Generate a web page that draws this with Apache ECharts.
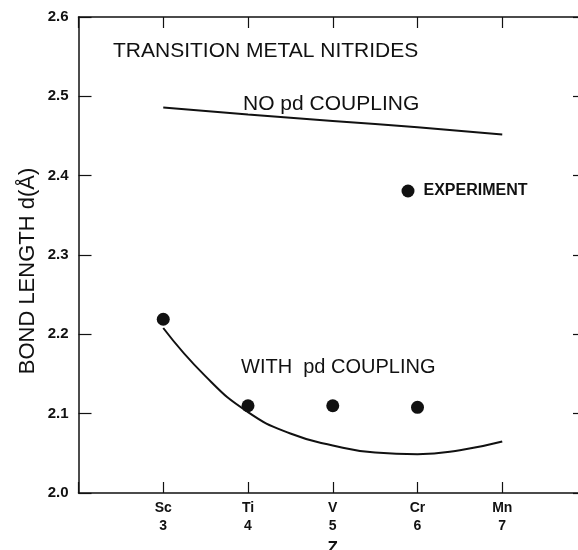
<!DOCTYPE html>
<html>
<head>
<meta charset="utf-8">
<script src="https://cdn.jsdelivr.net/npm/echarts@6/dist/echarts.min.js"></script>
<style>
html,body{margin:0;padding:0;background:#fff;}
#chart{width:578px;height:550px;}
</style>
</head>
<body>
<div id="chart"></div>
<script>
// ---- data ----
var elements = ['Sc', 'Ti', 'V', 'Cr', 'Mn'];
var zValues = [3, 4, 5, 6, 7];
var yTicks = [2.0, 2.1, 2.2, 2.3, 2.4, 2.5, 2.6];
var noCouplingZ = [3, 4, 5, 6, 7];
var noCouplingD = [2.486, 2.477, 2.469, 2.461, 2.452];
var withCouplingZ = [3, 3.5, 4, 4.5, 5, 5.5, 6, 6.5, 7];
var withCouplingD = [2.208, 2.147, 2.102, 2.075, 2.060, 2.051, 2.049, 2.054, 2.065];
var experimentZ = [3, 4, 5, 6];
var experimentD = [2.219, 2.110, 2.110, 2.108];
var titleText = 'TRANSITION METAL NITRIDES';
var noLabel = 'NO pd COUPLING';
var withLabel = 'WITH  pd COUPLING';
var yTitle = 'BOND LENGTH d(Å)';

function pairs(xs, ys) { return xs.map(function (x, i) { return [x, ys[i]]; }); }

var FONT = '"Liberation Sans", Arial, sans-serif';
var chart = echarts.init(document.getElementById('chart'), null, { renderer: 'canvas' });

var axisLine = { show: true, lineStyle: { color: '#111', width: 1.5 } };
var xLabel = function (v) {
  var i = zValues.indexOf(v);
  return i < 0 ? '' : elements[i] + '\n' + zValues[i];
};

chart.setOption({
  animation: false,
  backgroundColor: '#fff',
  grid: { left: 78.5, top: 17, width: 508.5, height: 476, outerBoundsMode: 'none', containLabel: false },
  legend: {
    data: [{ name: 'EXPERIMENT', icon: 'circle' }],
    left: 396.5, top: 178,
    itemWidth: 13, itemHeight: 13,
    textStyle: { fontFamily: FONT, fontWeight: 'bold', fontSize: 16, color: '#111', padding: [0, 0, 0, 4] }
  },
  xAxis: [{
    type: 'value', min: 2, max: 8, interval: 1, position: 'bottom',
    axisLine: axisLine,
    axisTick: { show: true, inside: true, length: 11, lineStyle: { color: '#111', width: 1.2 } },
    splitLine: { show: false },
    axisLabel: { formatter: xLabel, fontFamily: FONT, fontWeight: 'bold', fontSize: 14, lineHeight: 18, color: '#111', margin: 6 },
    name: 'Z', nameLocation: 'middle', nameGap: 41,
    nameTextStyle: { fontFamily: FONT, fontWeight: 'bold', fontSize: 17, color: '#111' }
  }, {
    type: 'value', min: 2, max: 8, interval: 1, position: 'top',
    axisLine: axisLine,
    axisTick: { show: true, inside: true, length: 11, lineStyle: { color: '#111', width: 1.2 } },
    splitLine: { show: false },
    axisLabel: { show: false }
  }],
  yAxis: [{
    type: 'value', min: 2.0, max: 2.6, interval: 0.1, position: 'left',
    axisLine: axisLine,
    axisTick: { show: true, inside: true, length: 13, lineStyle: { color: '#111', width: 1.2 } },
    splitLine: { show: false },
    axisLabel: { formatter: function (v) { return v.toFixed(1); }, fontFamily: FONT, fontWeight: 'bold', fontSize: 15, color: '#111', margin: 10 }
  }, {
    type: 'value', min: 2.0, max: 2.6, interval: 0.1, position: 'right',
    axisLine: axisLine,
    axisTick: { show: true, inside: true, length: 14, lineStyle: { color: '#111', width: 1.2 } },
    splitLine: { show: false },
    axisLabel: { show: false }
  }],
  graphic: [
    { type: 'text', x: 113, y: 51, style: { text: titleText, font: '21px ' + FONT, fill: '#111', align: 'left', verticalAlign: 'middle' } },
    { type: 'text', x: 243, y: 104, style: { text: noLabel, font: '21px ' + FONT, fill: '#111', align: 'left', verticalAlign: 'middle' } },
    { type: 'text', x: 241, y: 367, style: { text: withLabel, font: '20px ' + FONT, fill: '#111', align: 'left', verticalAlign: 'middle' } },
    { type: 'text', x: 28, y: 271, rotation: Math.PI / 2, style: { text: yTitle, font: '22px ' + FONT, fill: '#111', align: 'center', verticalAlign: 'middle' } }
  ],
  series: [{
    name: 'NO pd COUPLING', type: 'line', data: pairs(noCouplingZ, noCouplingD),
    smooth: true, showSymbol: false, symbol: 'none',
    lineStyle: { color: '#111', width: 2 }
  }, {
    name: 'WITH pd COUPLING', type: 'line', data: pairs(withCouplingZ, withCouplingD),
    smooth: true, showSymbol: false, symbol: 'none',
    lineStyle: { color: '#111', width: 2 }
  }, {
    name: 'EXPERIMENT', type: 'scatter', data: pairs(experimentZ, experimentD),
    symbol: 'circle', symbolSize: 13,
    itemStyle: { color: '#111', opacity: 1 }
  }]
});
</script>
</body>
</html>
